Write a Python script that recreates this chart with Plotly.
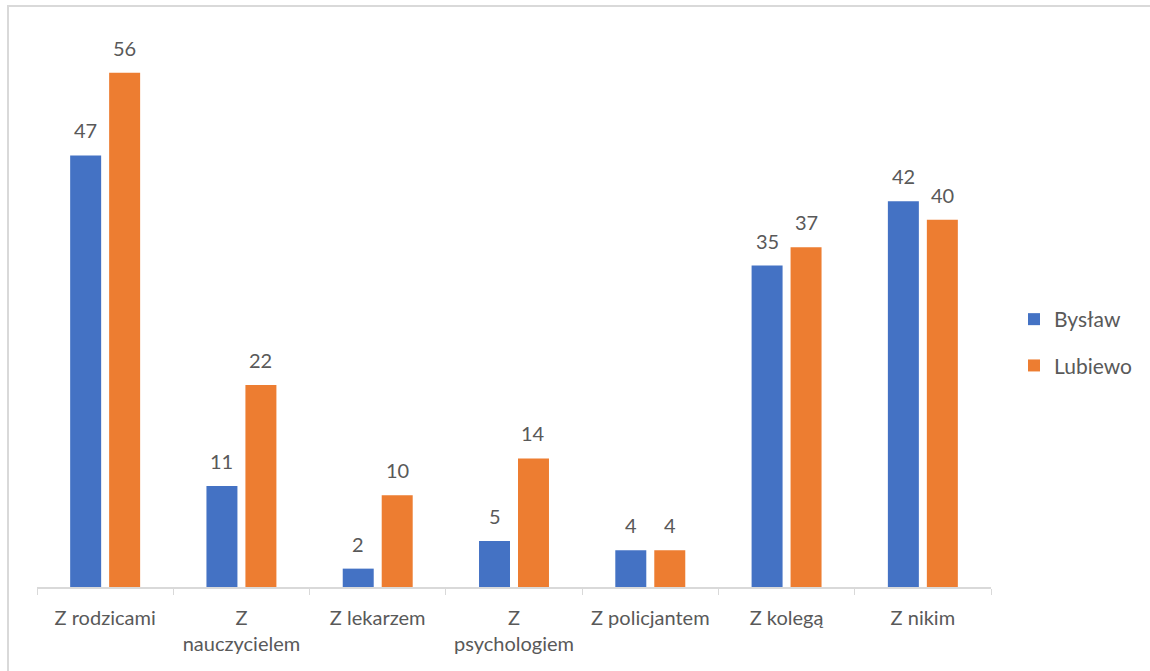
import plotly.graph_objects as go

categories = ["Z rodzicami", "Z<br>nauczycielem", "Z lekarzem", "Z<br>psychologiem",
              "Z policjantem", "Z kolegą", "Z nikim"]
byslaw = [47, 11, 2, 5, 4, 35, 42]
lubiewo = [56, 22, 10, 14, 4, 37, 40]
series = [("Bysław", byslaw, "#4472C4"), ("Lubiewo", lubiewo, "#ED7D31")]

W, H = 1150, 671
ML, MR, MT, MB = 37, 159, 36, 84
FONT = "Lato, 'Open Sans', sans-serif"
GREY = "#595959"
PW = W - ML - MR
PH = H - MT - MB

fig = go.Figure()
for i, (name, vals, col) in enumerate(series):
    fig.add_trace(go.Bar(name=name, x=categories, y=vals, marker_color=col,
                         marker_line=dict(width=0), legendgroup=name))

# data labels, placed from the data values
CAT_W = PW / len(categories)
BARGAP = 0.428
slot = (1 - BARGAP) * CAT_W / 2
for i, (name, vals, col) in enumerate(series):
    off = (i - 0.5) * slot
    for c, v in zip(categories, vals):
        fig.add_annotation(x=c, y=v, text=str(v), showarrow=False,
                           xshift=off, yshift=25, yanchor="middle",
                           font=dict(size=20, color=GREY, family=FONT))

fig.update_layout(
    width=W, height=H,
    margin=dict(l=ML, r=MR, t=MT, b=MB, autoexpand=False),
    paper_bgcolor="white", plot_bgcolor="white",
    barmode="group", bargap=BARGAP, bargroupgap=0.205,
    font=dict(family=FONT, size=20, color=GREY),
    showlegend=True,
    legend=dict(x=(1014 - ML) / PW, xanchor="left", y=(H - MB - 342.5) / PH, yanchor="middle",
                font=dict(size=21, color=GREY, family=FONT),
                tracegroupgap=16, itemwidth=30),
    xaxis=dict(showline=True, linecolor="#D9D9D9", linewidth=1.5,
               ticks="outside", tickson="boundaries", ticklen=6, tickcolor="#D9D9D9",
               ticklabelstandoff=12,
               tickfont=dict(size=20, color=GREY, family=FONT), showgrid=False),
    yaxis=dict(range=[0, 60], visible=False, showgrid=False, zeroline=False),
)

# outer chart border (top and left edges visible in the reference)
def px_x(p):
    return (p - ML) / PW

def px_y(p):
    return (H - MB - p) / PH

fig.add_shape(type="line", xref="paper", yref="paper",
              x0=px_x(7), x1=px_x(W), y0=px_y(6), y1=px_y(6),
              line=dict(color="#D9D9D9", width=2))
fig.add_shape(type="line", xref="paper", yref="paper",
              x0=px_x(8), x1=px_x(8), y0=px_y(6), y1=px_y(H),
              line=dict(color="#D9D9D9", width=2))

fig.write_html("out.html", config={"displayModeBar": False},
               post_script="document.body.style.margin='0px';")
